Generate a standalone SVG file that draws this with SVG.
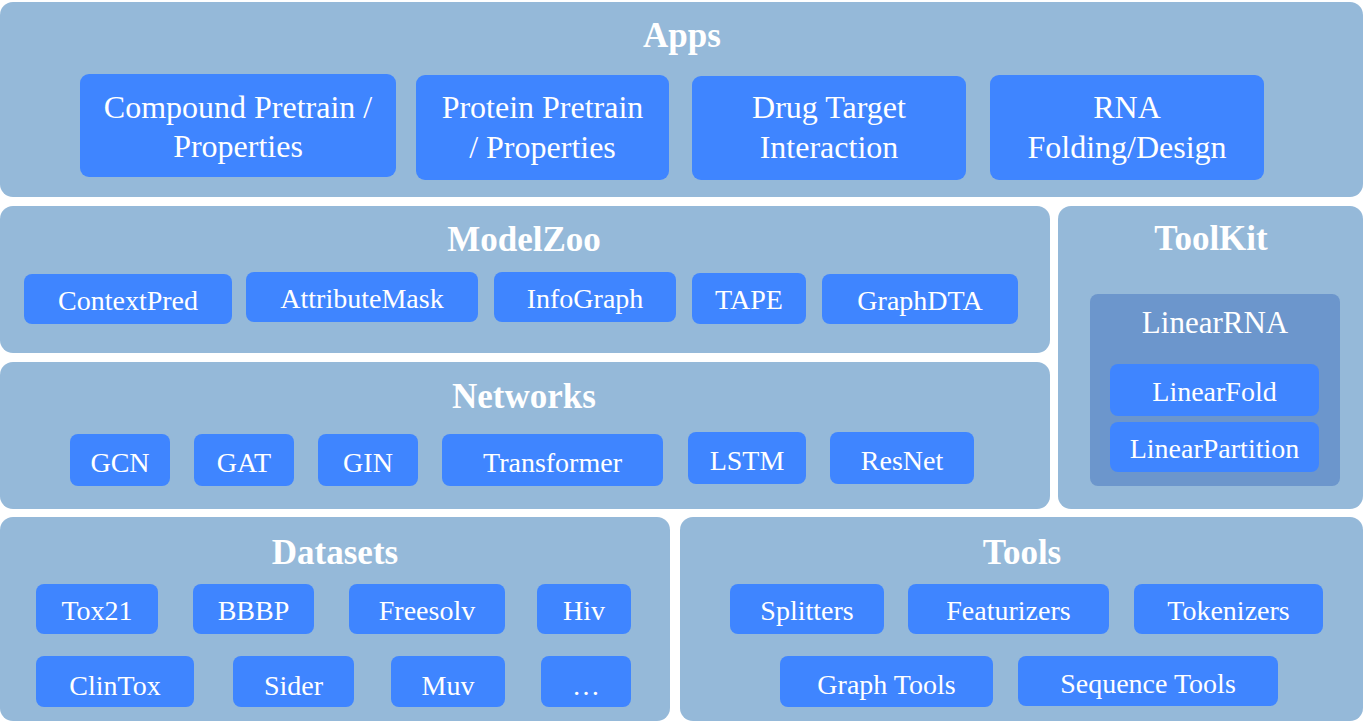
<svg xmlns="http://www.w3.org/2000/svg" width="1364" height="722" viewBox="0 0 1364 722">
<style>
.panel{fill:#95b9d9}
.inner{fill:#6c96cc}
.node{fill:#3f85ff}
text{font-family:"Liberation Serif","Times New Roman",serif;fill:#ffffff;text-anchor:middle}
.title{font-size:35px;font-weight:bold}
.app{font-size:32px}
.lbl{font-size:28px}
.sub{font-size:31px}
</style>
<rect width="1364" height="722" fill="#ffffff"/>
<g id="panels">
<g id="apps"><rect class="panel" x="0" y="2" width="1363" height="195" rx="13"/><text class="title" x="682" y="47">Apps</text></g>
<g id="modelzoo"><rect class="panel" x="0" y="206" width="1050" height="147" rx="13"/><text class="title" x="524" y="251">ModelZoo</text></g>
<g id="networks"><rect class="panel" x="0" y="362" width="1050" height="147" rx="13"/><text class="title" x="524" y="408">Networks</text></g>
<g id="toolkit"><rect class="panel" x="1058" y="206" width="305" height="303" rx="13"/><text class="title" x="1211" y="250">ToolKit</text></g>
<g id="datasets"><rect class="panel" x="0" y="517" width="670" height="204" rx="13"/><text class="title" x="335" y="564">Datasets</text></g>
<g id="tools"><rect class="panel" x="680" y="517" width="683" height="204" rx="13"/><text class="title" x="1022" y="564">Tools</text></g>
</g>
<g id="app-nodes">
<g id="compound"><rect class="node" x="80" y="74" width="316" height="103" rx="9"/><text class="app" x="238" y="118">Compound Pretrain /</text><text class="app" x="238" y="157">Properties</text></g>
<g id="protein"><rect class="node" x="416" y="75" width="253" height="105" rx="9"/><text class="app" x="542.5" y="118">Protein Pretrain</text><text class="app" x="542.5" y="158">/ Properties</text></g>
<g id="dti"><rect class="node" x="692" y="76" width="274" height="104" rx="9"/><text class="app" x="829" y="118">Drug Target</text><text class="app" x="829" y="158">Interaction</text></g>
<g id="rna"><rect class="node" x="990" y="75" width="274" height="105" rx="9"/><text class="app" x="1127" y="118">RNA</text><text class="app" x="1127" y="158">Folding/Design</text></g>
</g>
<g id="modelzoo-nodes">
<g id="contextpred"><rect class="node" x="24" y="274" width="208" height="50" rx="8"/><text class="lbl" x="128" y="310">ContextPred</text></g>
<g id="attributemask"><rect class="node" x="246" y="272" width="232" height="50" rx="8"/><text class="lbl" x="362" y="308">AttributeMask</text></g>
<g id="infograph"><rect class="node" x="494" y="272" width="182" height="50" rx="8"/><text class="lbl" x="585" y="308">InfoGraph</text></g>
<g id="tape"><rect class="node" x="692" y="273" width="114" height="51" rx="8"/><text class="lbl" x="749" y="309">TAPE</text></g>
<g id="graphdta"><rect class="node" x="822" y="274" width="196" height="50" rx="8"/><text class="lbl" x="920" y="310">GraphDTA</text></g>
</g>
<g id="network-nodes">
<g id="gcn"><rect class="node" x="70" y="434" width="100" height="52" rx="8"/><text class="lbl" x="120" y="472">GCN</text></g>
<g id="gat"><rect class="node" x="194" y="434" width="100" height="52" rx="8"/><text class="lbl" x="244" y="472">GAT</text></g>
<g id="gin"><rect class="node" x="318" y="434" width="100" height="52" rx="8"/><text class="lbl" x="368" y="472">GIN</text></g>
<g id="transformer"><rect class="node" x="442" y="434" width="221" height="52" rx="8"/><text class="lbl" x="552.5" y="472">Transformer</text></g>
<g id="lstm"><rect class="node" x="688" y="432" width="118" height="52" rx="8"/><text class="lbl" x="747" y="470">LSTM</text></g>
<g id="resnet"><rect class="node" x="830" y="432" width="144" height="52" rx="8"/><text class="lbl" x="902" y="470">ResNet</text></g>
</g>
<g id="toolkit-nodes">
<g id="linearrna"><rect class="inner" x="1090" y="294" width="250" height="192" rx="8"/><text class="sub" x="1215" y="333">LinearRNA</text></g>
<g id="linearfold"><rect class="node" x="1110" y="364" width="209" height="52" rx="8"/><text class="lbl" x="1214.5" y="401">LinearFold</text></g>
<g id="linearpartition"><rect class="node" x="1110" y="422" width="209" height="50" rx="8"/><text class="lbl" x="1214.5" y="458">LinearPartition</text></g>
</g>
<g id="dataset-nodes">
<g id="tox21"><rect class="node" x="36" y="584" width="122" height="50" rx="8"/><text class="lbl" x="97" y="620">Tox21</text></g>
<g id="bbbp"><rect class="node" x="193" y="584" width="121" height="50" rx="8"/><text class="lbl" x="253.5" y="620">BBBP</text></g>
<g id="freesolv"><rect class="node" x="349" y="584" width="156" height="50" rx="8"/><text class="lbl" x="427" y="620">Freesolv</text></g>
<g id="hiv"><rect class="node" x="537" y="584" width="94" height="50" rx="8"/><text class="lbl" x="584" y="620">Hiv</text></g>
<g id="clintox"><rect class="node" x="36" y="656" width="158" height="51" rx="8"/><text class="lbl" x="115" y="695">ClinTox</text></g>
<g id="sider"><rect class="node" x="233" y="656" width="121" height="51" rx="8"/><text class="lbl" x="293.5" y="695">Sider</text></g>
<g id="muv"><rect class="node" x="391" y="656" width="114" height="51" rx="8"/><text class="lbl" x="448" y="695">Muv</text></g>
<g id="more"><rect class="node" x="541" y="656" width="90" height="51" rx="8"/><text class="lbl" x="586" y="695">…</text></g>
</g>
<g id="tool-nodes">
<g id="splitters"><rect class="node" x="730" y="584" width="154" height="50" rx="8"/><text class="lbl" x="807" y="620">Splitters</text></g>
<g id="featurizers"><rect class="node" x="908" y="584" width="201" height="50" rx="8"/><text class="lbl" x="1008.5" y="620">Featurizers</text></g>
<g id="tokenizers"><rect class="node" x="1134" y="584" width="189" height="50" rx="8"/><text class="lbl" x="1228.5" y="620">Tokenizers</text></g>
<g id="graphtools"><rect class="node" x="780" y="656" width="213" height="51" rx="8"/><text class="lbl" x="886.5" y="694">Graph Tools</text></g>
<g id="seqtools"><rect class="node" x="1018" y="656" width="260" height="50" rx="8"/><text class="lbl" x="1148" y="693">Sequence Tools</text></g>
</g>
<g id="connectors"/>
</svg>
